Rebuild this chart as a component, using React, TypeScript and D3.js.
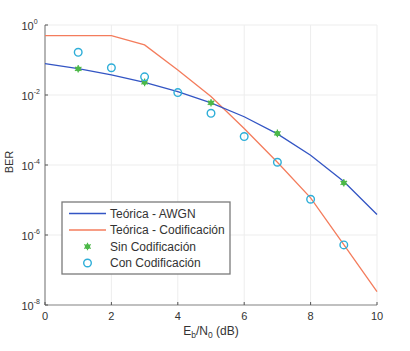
import React from "react";
import * as d3 from "d3";

const ebn0 = [0, 1, 2, 3, 4, 5, 6, 7, 8, 9, 10];
const awgnTheory = [7.86e-2, 5.63e-2, 3.75e-2, 2.29e-2, 1.25e-2, 5.95e-3, 2.39e-3, 7.73e-4, 1.91e-4, 3.36e-5, 3.87e-6];
const codedTheory = [0.5, 0.5, 0.5, 0.27, 5.2e-2, 9.0e-3, 1.1e-3, 1.2e-4, 1.15e-5, 5.3e-7, 2.4e-8];
const simX = [1, 3, 5, 7, 9];
const sinCodificacion = [5.6e-2, 2.3e-2, 6.0e-3, 8.0e-4, 3.1e-5];
const conX = [1, 2, 3, 4, 5, 6, 7, 8, 9];
const conCodificacion = [0.166, 0.06, 0.033, 0.0117, 3.0e-3, 6.5e-4, 1.2e-4, 1.05e-5, 5.2e-7];
const xTicks = [0, 2, 4, 6, 8, 10];
const yTickExps = [0, -2, -4, -6, -8];
const legendLabels = ["Teórica - AWGN", "Teórica - Codificación", "Sin Codificación", "Con Codificación"];

const BLUE = "#3355c4";
const ORANGE = "#f47c5c";
const GREEN = "#4cb848";
const CYAN = "#2eaed8";
const FONT = "'Liberation Sans', Arial, sans-serif";

export default function App() {
  const left = 45, right = 377, top = 25, bottom = 305;
  const x = d3.scaleLinear().domain([0, 10]).range([left, right]);
  const y = d3.scaleLog().domain([1e-8, 1]).range([bottom, top]);
  const line = d3.line<number>().x((_, i) => x(ebn0[i])).y((d) => y(d));
  const star = d3.symbol(d3.symbolAsterisk, 40)();

  const lx = 62, ly = 202, lw = 168, lh = 72;
  const rows = [213.5, 230, 246.5, 263];

  return (
    <svg width={410} height={351} style={{ position: "absolute", left: 0, top: 0 }} fontFamily={FONT}>
      <rect width={410} height={351} fill="#fff" />
      {/* grid */}
      {xTicks.map((t) => (
        <line key={"gx" + t} x1={x(t)} x2={x(t)} y1={top} y2={bottom} stroke="#ededed" strokeWidth={1} />
      ))}
      {yTickExps.map((e) => (
        <line key={"gy" + e} x1={left} x2={right} y1={y(Math.pow(10, e))} y2={y(Math.pow(10, e))} stroke="#ededed" strokeWidth={1} />
      ))}
      {/* axes */}
      <line x1={left} x2={left} y1={top} y2={bottom} stroke="#8a8a8a" strokeWidth={1.2} />
      <line x1={left} x2={right} y1={bottom} y2={bottom} stroke="#8a8a8a" strokeWidth={1.2} />
      {xTicks.map((t) => (
        <g key={"xt" + t}>
          <line x1={x(t)} x2={x(t)} y1={bottom} y2={bottom - 3} stroke="#555" />
          <text x={x(t)} y={319.5} textAnchor="middle" fontSize={11} fill="#333">{t}</text>
        </g>
      ))}
      {yTickExps.map((e) => {
        const yy = y(Math.pow(10, e));
        return (
          <g key={"yt" + e}>
            <line x1={left} x2={left + 3} y1={yy} y2={yy} stroke="#555" />
            <text x={21.5} y={yy + 4.5} fontSize={11} fill="#333">
              10
              <tspan dy={-6} fontSize={7}>{e === 0 ? "0" : "-" + Math.abs(e)}</tspan>
            </text>
          </g>
        );
      })}
      <text transform={`translate(13,162) rotate(-90)`} textAnchor="middle" fontSize={11} fill="#333">BER</text>
      <text x={211} y={335} textAnchor="middle" fontSize={12} fill="#333">
        E<tspan dy={3} fontSize={8.5}>b</tspan>
        <tspan dy={-3}>/N</tspan>
        <tspan dy={3} fontSize={8.5}>0</tspan>
        <tspan dy={-3}> (dB)</tspan>
      </text>
      {/* lines */}
      <path d={line(codedTheory) || ""} fill="none" stroke={ORANGE} strokeWidth={1.3} />
      <path d={line(awgnTheory) || ""} fill="none" stroke={BLUE} strokeWidth={1.3} />
      {/* markers */}
      {sinCodificacion.map((v, i) => (
        <g key={"s" + i} transform={`translate(${x(simX[i])},${y(v)})`}>
          <circle r={2.6} fill={GREEN} />
          <path d={star || ""} fill="none" stroke={GREEN} strokeWidth={1.2} />
        </g>
      ))}
      {conCodificacion.map((v, i) => (
        <circle key={"c" + i} cx={x(conX[i])} cy={y(v)} r={3.8} fill="none" stroke={CYAN} strokeWidth={1.4} />
      ))}
      {/* legend */}
      <rect x={lx} y={ly} width={lw} height={lh} fill="#fff" stroke="#7a7a7a" strokeWidth={1.3} />
      <line x1={69} x2={106} y1={rows[0]} y2={rows[0]} stroke={BLUE} strokeWidth={1.3} />
      <line x1={69} x2={106} y1={rows[1]} y2={rows[1]} stroke={ORANGE} strokeWidth={1.3} />
      <g transform={`translate(87.5,${rows[2]})`}>
        <circle r={2.6} fill={GREEN} />
        <path d={star || ""} fill="none" stroke={GREEN} strokeWidth={1.2} />
      </g>
      <circle cx={87.5} cy={rows[3]} r={3.8} fill="none" stroke={CYAN} strokeWidth={1.4} />
      {legendLabels.map((s, i) => (
        <text key={s} x={110} y={rows[i] + 4.3} fontSize={12} fill="#333">{s}</text>
      ))}
    </svg>
  );
}
